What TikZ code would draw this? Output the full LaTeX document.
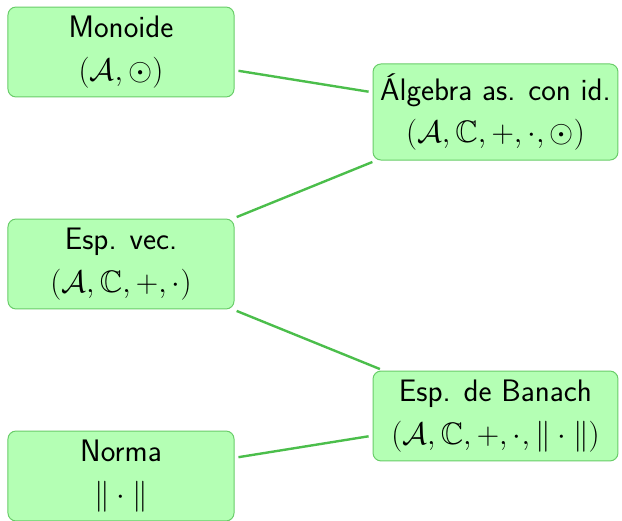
\documentclass[tikz,border=0pt]{standalone}
\usepackage{amssymb}
\begin{document}
\definecolor{boxfill}{RGB}{180,255,180}
\definecolor{boxline}{RGB}{105,205,105}
\definecolor{linkcol}{RGB}{75,190,75}
\begin{tikzpicture}[x=0.556pt,y=-0.556pt,
  box/.style={draw=boxline, fill=boxfill, line width=0.556pt, rounded corners=4.45pt,
    align=center, font=\sffamily\fontsize{17.28}{23.7}\selectfont, inner sep=0pt},
  lbox/.style={box, minimum width=125.7pt, minimum height=50pt},
  rbox/.style={box, minimum width=136.2pt, minimum height=50pt},
  link/.style={draw=linkcol, line width=1.33pt, shorten <=2.2pt, shorten >=2.2pt}]
\useasboundingbox (0,0) rectangle (622,521);
\node[lbox] (mon) at (121,52) {Monoide\\$(\mathcal{A},\odot)$};
\node[rbox, minimum height=53.4pt] (alg) at (495.5,112) {Álgebra as. con id.\\$(\mathcal{A},\mathbb{C},+,\cdot,\odot)$};
\node[lbox] (vec) at (121,264) {Esp. vec.\\$(\mathcal{A},\mathbb{C},+,\cdot)$};
\node[rbox] (ban) at (495.5,416) {Esp. de Banach\\$(\mathcal{A},\mathbb{C},+,\cdot,\|\cdot\|)$};
\node[lbox] (nor) at (121,476) {Norma\\$\|\cdot\|$};
\draw[link] (mon) -- (alg);
\draw[link] (vec) -- (alg);
\draw[link] (vec) -- (ban);
\draw[link] (nor) -- (ban);
\end{tikzpicture}
\end{document}
